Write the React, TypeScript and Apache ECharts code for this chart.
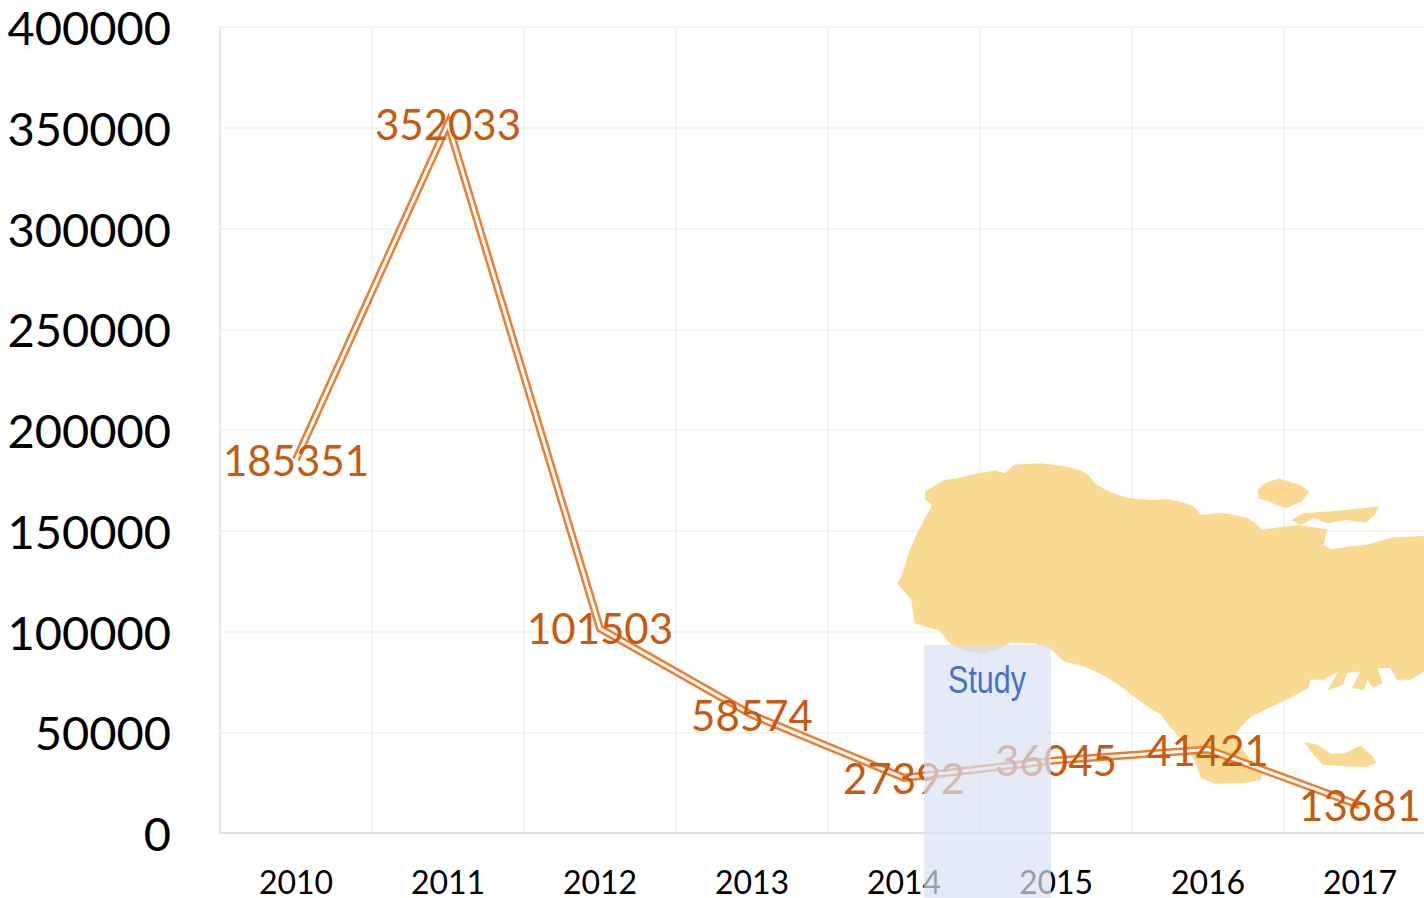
import React, { useEffect, useRef } from "react";
import * as echarts from "echarts";

const years = ["2010", "2011", "2012", "2013", "2014", "2015", "2016", "2017"];
const cases = [185351, 352033, 101503, 58574, 27392, 36045, 41421, 13681];

// Decorative island silhouette (illustration, not data), in zoomed local coordinates
const mainland = [[130,125],[150,112],[185,90],[220,85],[250,78],[290,68],[315,65],[330,60],[360,70],[385,45],[420,42],[460,40],[500,44],[540,50],[580,62],[600,75],[620,100],[650,120],[685,135],[720,145],[780,150],[830,148],[880,160],[905,170],[925,195],[970,190],[1000,190],[1060,205],[1085,222],[1100,240],[1150,232],[1200,225],[1290,238],[1278,285],[1300,298],[1350,290],[1400,285],[1480,262],[1600,257],[1600,650],[1568,665],[1530,690],[1490,690],[1470,655],[1435,655],[1448,700],[1420,715],[1405,690],[1395,720],[1360,715],[1385,665],[1345,670],[1335,705],[1290,722],[1320,665],[1280,690],[1240,690],[1235,715],[1190,740],[1130,770],[1070,800],[1040,830],[1020,860],[1045,900],[1100,970],[1100,990],[1050,1000],[965,1002],[925,985],[905,930],[870,870],[835,830],[810,795],[770,770],[700,715],[650,680],[590,650],[530,635],[490,595],[440,580],[375,578],[340,600],[300,612],[250,605],[205,585],[170,542],[100,520],[90,450],[50,402],[65,370],[85,300],[105,255],[125,215],[150,165],[130,150]];
const isleNorth = [[1088,120],[1110,100],[1150,85],[1210,105],[1237,125],[1215,155],[1170,175],[1120,155],[1092,145]];
const isleEast = [[1185,210],[1220,190],[1290,185],[1340,180],[1440,170],[1425,195],[1400,218],[1340,210],[1290,220],[1250,205],[1210,225]];
const isleSouth = [[1222,878],[1260,885],[1300,912],[1340,910],[1385,888],[1420,920],[1430,940],[1400,952],[1340,950],[1275,945],[1250,915]];

export default function App() {
  const ref = useRef<HTMLDivElement>(null);
  useEffect(() => {
    const chart = echarts.init(ref.current!, null, { renderer: "svg" });
    const land = (points: number[][]) => ({
      type: "polygon",
      shape: { points },
      style: { fill: "#FAD88E", opacity: 0.96 },
      z: 1,
      silent: true,
    });
    chart.setOption({
      animation: false,
      backgroundColor: "#fff",
      grid: { left: 220, right: -12, top: 27, bottom: 65, containLabel: false, outerBoundsMode: "none" },
      xAxis: {
        type: "category",
        data: years,
        axisLine: { lineStyle: { color: "#D9D9D9", width: 1.5 } },
        axisTick: { show: false },
        axisLabel: { color: "#000", fontFamily: "Lato", fontSize: 32, lineHeight: 32, margin: 32, interval: 0 },
        splitLine: { show: true, lineStyle: { color: "#F0F0F0", width: 1.5 } },
      },
      yAxis: {
        type: "value",
        min: 0,
        max: 400000,
        interval: 50000,
        axisLine: { show: true, lineStyle: { color: "#E4E4E4", width: 1.5 } },
        axisTick: { show: false },
        axisLabel: { color: "#000", fontFamily: "Lato", fontSize: 47, margin: 49, padding: [2, 0, 0, 0], formatter: (v: number) => String(v) },
        splitLine: { show: true, lineStyle: { color: "#F0F0F0", width: 1.5 } },
      },
      series: [
        {
          type: "line",
          data: cases,
          symbol: "none",
          z: 3,
          lineStyle: { color: "#ED7D31", width: 8, join: "miter", miterLimit: 20 },
        },
        {
          type: "line",
          data: cases,
          symbol: "circle",
          symbolSize: 1,
          showSymbol: true,
          showAllSymbol: true,
          itemStyle: { color: "transparent" },
          z: 4,
          lineStyle: { color: "#FFFFFF", width: 3, join: "miter", miterLimit: 20 },
          labelLayout: { hideOverlap: false },
          label: {
            show: true,
            position: "inside",
            offset: [0, 1],
            color: "#C55A11",
            fontFamily: "Lato",
            fontSize: 42,
            formatter: (p: any) => String(p.value),
          },
        },
      ],
      graphic: {
        elements: [
          {
            type: "group",
            x: 880,
            y: 450,
            scaleX: 1 / 2.88,
            scaleY: 1 / 3,
            z: 1,
            children: [land(mainland), land(isleNorth), land(isleEast), land(isleSouth)],
          },
          {
            type: "rect",
            shape: { x: 924, y: 645, width: 127, height: 253 },
            style: { fill: "rgba(216,225,242,0.7)" },
            z: 100,
            silent: true,
          },
          {
            type: "text",
            x: 987,
            y: 679,
            scaleX: 0.78,
            z: 101,
            style: {
              text: "Study",
              fill: "#4472C4",
              fontFamily: "Liberation Sans",
              fontSize: 39,
              align: "center",
              verticalAlign: "middle",
            },
          },
        ],
      },
    });
    return () => chart.dispose();
  }, []);
  return (
    <div style={{ position: "fixed", left: 0, top: 0, width: 1424, height: 898, overflow: "hidden", background: "#fff" }}>
      <div ref={ref} style={{ width: 1424, height: 898 }} />
    </div>
  );
}
